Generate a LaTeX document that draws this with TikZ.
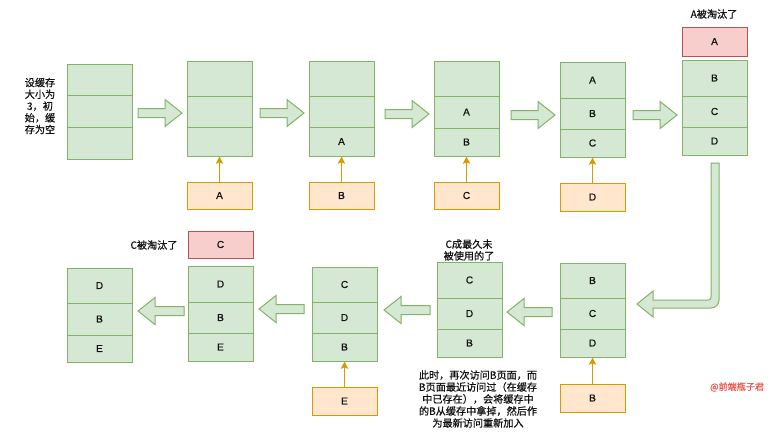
\documentclass[tikz,border=0pt]{standalone}
\usepackage{fontspec}
\setmainfont{Liberation Sans}[FakeBold=0.4]
\newfontfamily\cjk{Noto Sans CJK SC}[FakeBold=0.6]
\usetikzlibrary{arrows.meta}
\definecolor{gfill}{HTML}{D5E8D4}
\definecolor{gline}{HTML}{82B366}
\definecolor{ofill}{HTML}{FFE6CC}
\definecolor{oline}{HTML}{D79B00}
\definecolor{rfill}{HTML}{F8CECC}
\definecolor{rline}{HTML}{B85450}
\definecolor{txt}{HTML}{111111}
\definecolor{mark}{HTML}{E8574F}
\tikzset{
  cellg/.style={draw=gline, fill=gfill, line width=0.75pt, minimum width=48.75pt, inner sep=0pt,
    text=txt, font=\fontsize{7.6pt}{9pt}\selectfont},
  boxo/.style={draw=oline, fill=ofill, line width=0.75pt, minimum width=48.75pt, inner sep=0pt,
    text=txt, font=\fontsize{7.6pt}{9pt}\selectfont},
  boxr/.style={draw=rline, fill=rfill, line width=0.75pt, minimum width=48.75pt, inner sep=0pt,
    text=txt, font=\fontsize{7.6pt}{9pt}\selectfont},
  fat/.style={draw=gline, fill=gfill, line width=0.75pt, line join=miter},
  oarr/.style={draw=oline, line width=0.75pt, -{Stealth[width=5.5pt,length=5.5pt,inset=1.2pt]}},
  lbl/.style={text=txt, align=center, inner sep=0pt, font=\cjk\fontsize{7.6pt}{8.8pt}\selectfont}
}
% name, xl, yt, y1, y2, yb, labels
\newcommand\stk[9]{%
  \node[cellg, minimum height={(#4-#3)*0.75pt}] (#1a) at ({#2+32.5},{(#3+#4)/2}) {#7};
  \node[cellg, minimum height={(#5-#4)*0.75pt}] (#1b) at ({#2+32.5},{(#4+#5)/2}) {#8};
  \node[cellg, minimum height={(#6-#5)*0.75pt}] (#1c) at ({#2+32.5},{(#5+#6)/2}) {#9};
}
% name, style, xl, yt, yb, label
\newcommand\mybox[6]{%
  \node[#2, minimum height={(#5-#4)*0.75pt}] (#1) at ({#3+32.5},{(#4+#5)/2}) {#6};
}
% right fat arrow: x0 x1 yc
\newcommand\fatR[3]{%
  \draw[fat] (#1,{#3-4.5}) -- ({#2-17},{#3-4.5}) -- ({#2-17},{#3-13.5}) -- (#2,#3)
    -- ({#2-17},{#3+13.5}) -- ({#2-17},{#3+4.5}) -- (#1,{#3+4.5}) -- cycle;
}
% left fat arrow: tip tail yc
\newcommand\fatL[3]{%
  \draw[fat] (#2,{#3-4.5}) -- ({#1+17},{#3-4.5}) -- ({#1+17},{#3-13.5}) -- (#1,#3)
    -- ({#1+17},{#3+13.5}) -- ({#1+17},{#3+4.5}) -- (#2,{#3+4.5}) -- cycle;
}
\begin{document}
\begin{tikzpicture}[x=0.75pt,y=-0.75pt]
\useasboundingbox (0,0) rectangle (773,437);
\fill[white] (0,0) rectangle (773,437);

% top row
\stk{sA}{67}{64}{95}{127}{159}{}{}{}
\stk{sB}{187}{61}{96}{127}{156}{}{}{}
\stk{sC}{309}{61}{96}{127}{156}{}{}{A}
\stk{sD}{434}{61}{96}{128}{156}{}{A}{B}
\stk{sE}{560}{62}{98}{129}{157}{A}{B}{C}
\stk{sF}{682}{60}{96}{127}{155}{B}{C}{D}

% bottom row
\stk{sG}{560}{263}{298}{329}{357}{B}{C}{D}
\stk{sH}{437}{262}{298}{329}{357}{C}{D}{B}
\stk{sI}{312}{267}{302}{333}{361}{C}{D}{B}
\stk{sJ}{188}{266}{302}{333}{361}{D}{B}{E}
\stk{sK}{67}{268}{303}{335}{362}{D}{B}{E}

% orange input boxes
\mybox{oA}{boxo}{187}{182}{209}{A}
\mybox{oB}{boxo}{309}{182}{209}{B}
\mybox{oC}{boxo}{434}{182}{209}{C}
\mybox{oD}{boxo}{560}{183}{211}{D}
\mybox{oB2}{boxo}{560}{384}{412}{B}
\mybox{oE}{boxo}{312}{387}{415}{E}

% evicted boxes
\mybox{rA}{boxr}{682}{27}{56}{A}
\mybox{rC}{boxr}{188}{231}{258}{C}

% orange arrows
\draw[oarr] (oA.north) -- (sBc.south);
\draw[oarr] (oB.north) -- (sCc.south);
\draw[oarr] (oC.north) -- (sDc.south);
\draw[oarr] (oD.north) -- (sEc.south);
\draw[oarr] (oB2.north) -- (sGc.south);
\draw[oarr] (oE.north) -- (sIc.south);

% fat arrows
\fatR{138}{182}{113}
\fatR{260}{304}{113}
\fatR{385}{429}{114}
\fatR{511}{555}{115}
\fatR{633}{677}{115}
\fatL{507}{552}{312}
\fatL{384}{430}{310}
\fatL{259}{304}{309}
\fatL{138}{184}{311}

% bent arrow
\draw[fat] (711,163) -- (719,163) [rounded corners=6pt] -- (719,308) [sharp corners] -- (653,308)
  -- (653,317) -- (637,304) -- (653,291) -- (653,300) [rounded corners=2pt] -- (711,300) [sharp corners] -- cycle;

% labels
\node[lbl] (tInit) at (40,106) {设缓存\\大小为\\3，初\\始，缓\\存为空};
\node[lbl] (tA) at (714,14) {A被淘汰了};
\node[lbl] (tC) at (154,245) {C被淘汰了};
\node[lbl] (tLRU) at (469,250) {C成最久未\\被使用的了};
\node[lbl, font=\cjk\fontsize{7.6pt}{9pt}\selectfont] (tPara) at (478,399)
  {此时，再次访问B页面，而\\B页面最近访问过（在缓存\\中已存在），会将缓存中\\的B从缓存中拿掉，然后作\\为最新访问重新加入};
\node[lbl, text=mark, font=\cjk\fontsize{6.8pt}{8pt}\selectfont] (wm) at (737,387) {@前端瓶子君};
\end{tikzpicture}
\end{document}
